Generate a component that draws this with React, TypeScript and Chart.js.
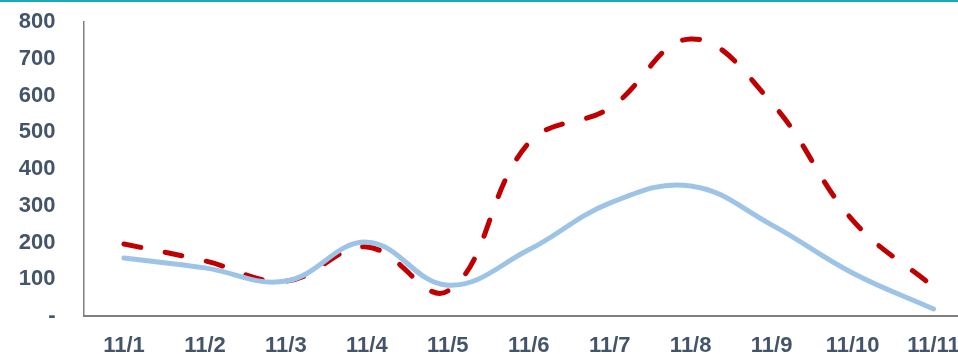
import React, { useEffect, useRef } from "react";
import { Chart, registerables } from "chart.js";

Chart.register(...registerables);

const categories = ["11/1", "11/2", "11/3", "11/4", "11/5", "11/6", "11/7", "11/8", "11/9", "11/10", "11/11"];
const solidSeries = [158, 131, 95, 201, 84, 180, 307, 354, 248, 117, 19];
const dashedSeries = [196, 150, 95, 188, 68, 471, 566, 754, 580, 261, 79];
const yTicks = [0, 100, 200, 300, 400, 500, 600, 700, 800];

export default function App() {
  const ref = useRef<HTMLCanvasElement | null>(null);

  useEffect(() => {
    if (!ref.current) return;
    const chart = new Chart(ref.current, {
      type: "line",
      data: {
        labels: categories,
        datasets: [
          {
            label: "solid",
            data: solidSeries,
            borderColor: "#9DC3E6",
            borderWidth: 5,
            pointRadius: 0,
            tension: 0.4,
            borderCapStyle: "round",
            fill: false,
          },
          {
            label: "dashed",
            data: dashedSeries,
            borderColor: "#C00000",
            borderWidth: 5,
            pointRadius: 0,
            tension: 0.4,
            borderDash: [17, 25],
            borderCapStyle: "round",
            fill: false,
          },
        ],
      },
      options: {
        responsive: false,
        animation: false,
        layout: { padding: { top: 22, left: 0, right: 0, bottom: 0 } },
        plugins: { legend: { display: false }, tooltip: { enabled: false } },
        scales: {
          x: {
            offset: true,
            grid: { display: false, drawTicks: false },
            border: { display: true, color: "#7F7F7F", width: 2 },
            afterFit: (s: any) => {
              s.height = 38;
              s.paddingLeft = 0;
              s.paddingRight = 0;
            },
            ticks: {
              padding: 17,
              color: "#44546A",
              font: { family: "Liberation Sans, Arial, sans-serif", size: 22, weight: "bold" },
              maxRotation: 0,
              autoSkip: false,
            },
          },
          y: {
            min: 0,
            max: 800,
            afterBuildTicks: (axis: any) => {
              axis.ticks = yTicks.map((v) => ({ value: v }));
            },
            afterFit: (s: any) => {
              s.width = 83.5;
              s.paddingTop = 0;
              s.paddingBottom = 0;
            },
            grid: { display: false, drawTicks: false },
            border: { display: true, color: "#7F7F7F", width: 1.5 },
            ticks: {
              padding: 28,
              color: "#44546A",
              font: { family: "Liberation Sans, Arial, sans-serif", size: 22, weight: "bold" },
              callback: (v: any) => (Number(v) === 0 ? "-" : String(v)),
            },
          },
        },
      },
    });
    return () => chart.destroy();
  }, []);

  return (
    <div
      style={{
        position: "absolute",
        left: 0,
        top: 0,
        width: 958,
        height: 354,
        overflow: "hidden",
        background: "#fff",
      }}
    >
      <div style={{ position: "absolute", left: 0, top: 0, width: 958, height: 2, background: "#1AABB8" }} />
      <canvas ref={ref} width={974} height={354} style={{ display: "block", width: 974, height: 354 }} />
    </div>
  );
}
